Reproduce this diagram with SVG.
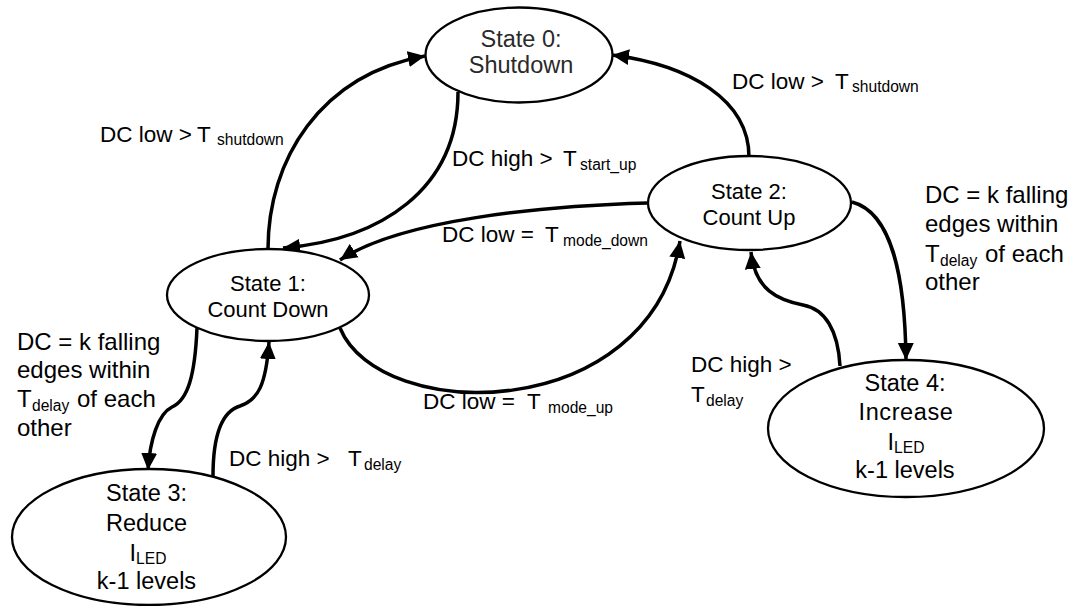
<svg xmlns="http://www.w3.org/2000/svg" width="1072" height="606" viewBox="0 0 1072 606">
<defs>
<marker id="arr" markerUnits="userSpaceOnUse" markerWidth="18" markerHeight="17" refX="17" refY="8" orient="auto" viewBox="0 0 18 16">
<path d="M0,0 L17,8 L0,16 z" fill="#000"/>
</marker>
<style>
.st{fill:#fff;stroke:#000;stroke-width:2.3}
.nt{font-family:"Liberation Sans",Arial,sans-serif;font-size:22px;fill:#000;text-anchor:middle}
.nb{font-family:"Liberation Sans",Arial,sans-serif;font-size:23.5px;fill:#000;text-anchor:middle}
.n0{font-family:"Liberation Sans",Arial,sans-serif;font-size:23.5px;fill:#2a2a2a;text-anchor:middle}
.lb{font-family:"Liberation Sans",Arial,sans-serif;font-size:22.5px;fill:#000}
.lb2{font-family:"Liberation Sans",Arial,sans-serif;font-size:24px;fill:#000}
.sub{font-size:15.6px}
.cn{fill:none;stroke:#000;stroke-width:3.5;marker-end:url(#arr)}
</style>
</defs>
<rect width="1072" height="606" fill="#fff"/>
<g id="connectors">
<path class="cn" d="M268,249 C268,160 320,75 425,56"/>
<path class="cn" d="M458,92 C458,190 380,240 283,248"/>
<path class="cn" d="M749,157 C749,100 690,65 612,55"/>
<path class="cn" d="M648,203 C540,206 400,220 340,260"/>
<path class="cn" d="M340,328 C380,425 650,425 680,241"/>
<path class="cn" d="M840,366 C838,330 825,309 803,305 C778,300 755,290 751,252"/>
<path class="cn" d="M852,202 C890,212 905,270 906,360"/>
<path class="cn" d="M197,328 C195,375 188,400 172,407 C158,414 150,440 148,470"/>
<path class="cn" d="M213,476 C213,440 220,412 240,406 C258,400 266,385 269,342"/>
</g>
<g id="state0">
<ellipse class="st" cx="519" cy="55" rx="93.5" ry="47.5"/>
<text class="n0" x="521" y="47">State 0:</text>
<text class="n0" x="521" y="72.5">Shutdown</text>
</g>
<g id="state1">
<ellipse class="st" cx="268" cy="295" rx="101" ry="46"/>
<text class="nt" x="268" y="291">State 1:</text>
<text class="nt" x="268" y="317">Count Down</text>
</g>
<g id="state2">
<ellipse class="st" cx="749.5" cy="203" rx="101.5" ry="47"/>
<text class="nt" x="749" y="199">State 2:</text>
<text class="nt" x="749" y="225">Count Up</text>
</g>
<g id="state3">
<ellipse class="st" cx="149" cy="537" rx="137" ry="68"/>
<text class="nb" x="146.5" y="501">State 3:</text>
<text class="nb" x="146.5" y="531">Reduce</text>
<text class="nb" x="148" y="561">I<tspan class="sub" dy="3">LED</tspan></text>
<text class="nb" x="146.5" y="589">k-1 levels</text>
</g>
<g id="state4">
<ellipse class="st" cx="906" cy="428.5" rx="138" ry="68.5"/>
<text class="nb" x="905" y="391">State 4:</text>
<text class="nb" x="906" y="420" letter-spacing="0.6">Increase</text>
<text class="nb" x="906" y="450">I<tspan class="sub" dy="3">LED</tspan></text>
<text class="nb" x="905" y="478">k-1 levels</text>
</g>
<g id="labels">
<text class="lb" x="100" y="142">DC low &gt; <tspan x="197">T</tspan><tspan class="sub" x="217" dy="3">shutdown</tspan></text>
<text class="lb" x="452" y="166">DC high &gt; <tspan x="563">T</tspan><tspan class="sub" x="580" dy="3.5">start_up</tspan></text>
<text class="lb" x="732" y="89">DC low &gt; <tspan x="835">T</tspan><tspan class="sub" x="852" dy="3">shutdown</tspan></text>
<text class="lb" x="442" y="242">DC low = <tspan x="545">T</tspan><tspan class="sub" x="563" dy="4">mode_down</tspan></text>
<text class="lb" x="423" y="409">DC low = <tspan x="527">T</tspan><tspan class="sub" x="548" dy="4">mode_up</tspan></text>
<text class="lb" x="229" y="466">DC high &gt; <tspan x="348">T</tspan><tspan class="sub" x="364" dy="3.5">delay</tspan></text>
<text class="lb" x="691" y="372">DC high &gt;</text>
<text class="lb" x="691" y="402">T<tspan class="sub" x="706" dy="3.5">delay</tspan></text>
<text class="lb2" x="17" y="350">DC = k falling</text>
<text class="lb2" x="17" y="378">edges within</text>
<text class="lb2" x="17" y="407">T<tspan class="sub" x="32" dy="3.5">delay</tspan><tspan x="77" dy="-3.5">of each</tspan></text>
<text class="lb2" x="17" y="436">other</text>
<text class="lb2" x="925" y="203">DC = k falling</text>
<text class="lb2" x="925" y="232">edges within</text>
<text class="lb2" x="925" y="262">T<tspan class="sub" x="940" dy="3.5">delay</tspan><tspan x="985" dy="-3.5">of each</tspan></text>
<text class="lb2" x="925" y="290">other</text>
</g>
</svg>
